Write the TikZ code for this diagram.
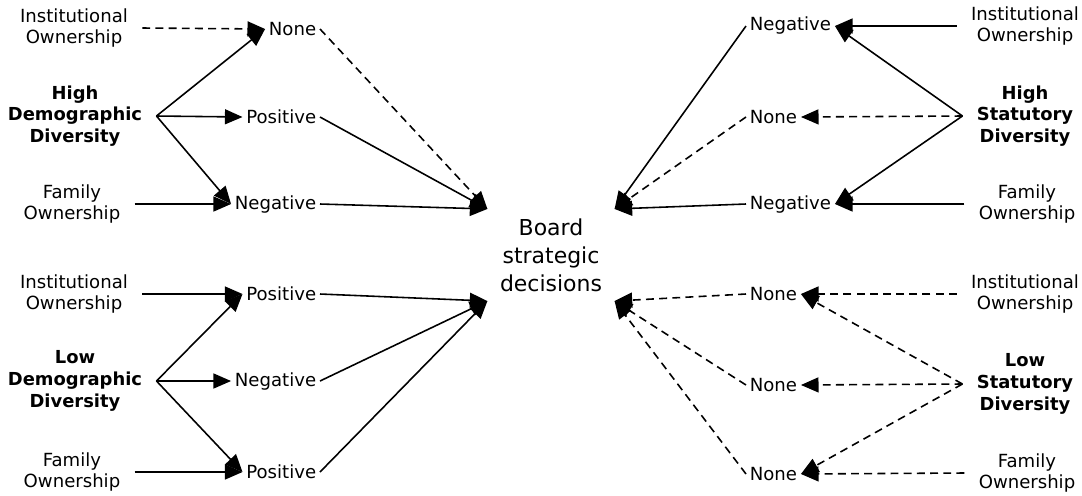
\documentclass[tikz,border=0pt]{standalone}
\usepackage{fontspec}
\setmainfont{DejaVu Sans}
\usetikzlibrary{arrows.meta}

\begin{document}
\begin{tikzpicture}[
    x=0.02cm, y=-0.02cm,
    factor/.style={align=center, inner xsep=8pt, inner ysep=2pt, font=\fontsize{10.3}{12.5}\selectfont},
    diversity/.style={factor, font=\fontsize{10.2}{12.3}\selectfont\bfseries},
    effect/.style={inner sep=2pt, font=\fontsize{10.3}{12}\selectfont},
    outcome/.style={align=center, inner sep=0pt, minimum width=72pt, minimum height=52pt, font=\fontsize{12.5}{16}\selectfont},
    arrow/.style={-{Triangle[length=10pt,width=8.5pt]}, line width=0.9pt},
    weak/.style={dash pattern=on 4.5pt off 3pt}
]
\useasboundingbox (0,0) rectangle (1082,495);

\node[outcome] (board) at (551,255) {Board\\strategic\\decisions};

\node[factor] (instA) at (74,28) {Institutional\\Ownership};
\node[diversity] (highdem) at (75,116) {High\\Demographic\\Diversity};
\node[factor] (famA) at (72,204) {Family\\Ownership};
\node[effect, anchor=east] (noneA) at (320,29) {None};
\node[effect, anchor=east] (posA) at (320,117) {Positive};
\node[effect, anchor=east] (negA) at (320,204) {Negative};

\node[factor] (instB) at (74,294) {Institutional\\Ownership};
\node[diversity] (lowdem) at (75,381) {Low\\Demographic\\Diversity};
\node[factor] (famB) at (72,472) {Family\\Ownership};
\node[effect, anchor=east] (posB) at (320,294) {Positive};
\node[effect, anchor=east] (negB) at (320,381) {Negative};
\node[effect, anchor=east] (posC) at (320,472) {Positive};

\node[factor] (instC) at (1025,26) {Institutional\\Ownership};
\node[diversity] (highstat) at (1025,116) {High\\Statutory\\Diversity};
\node[factor] (famC) at (1027,204) {Family\\Ownership};
\node[effect, anchor=west] (negC) at (746,26) {Negative};
\node[effect, anchor=west] (noneB) at (746,117) {None};
\node[effect, anchor=west] (negD) at (746,204) {Negative};

\node[factor] (instD) at (1025,294) {Institutional\\Ownership};
\node[diversity] (lowstat) at (1025,384) {Low\\Statutory\\Diversity};
\node[factor] (famD) at (1027,473) {Family\\Ownership};
\node[effect, anchor=west] (noneC) at (746,294) {None};
\node[effect, anchor=west] (noneD) at (746,385) {None};
\node[effect, anchor=west] (noneE) at (746,474) {None};

\draw[arrow, weak] (instA.east) -- (noneA.west);
\draw[arrow] (highdem.east) -- (noneA.west);
\draw[arrow] (highdem.east) -- (posA.west);
\draw[arrow] (highdem.east) -- (negA.west);
\draw[arrow] (famA.east) -- (negA.west);
\draw[arrow, weak] (noneA.east) -- (board.north west);
\draw[arrow] (posA.east) -- (board.north west);
\draw[arrow] (negA.east) -- (board.north west);

\draw[arrow] (instB.east) -- (posB.west);
\draw[arrow] (lowdem.east) -- (posB.west);
\draw[arrow] (lowdem.east) -- (negB.west);
\draw[arrow] (lowdem.east) -- (posC.west);
\draw[arrow] (famB.east) -- (posC.west);
\draw[arrow] (posB.east) -- (board.south west);
\draw[arrow] (negB.east) -- (board.south west);
\draw[arrow] (posC.east) -- (board.south west);

\draw[arrow] (instC.west) -- (negC.east);
\draw[arrow] (highstat.west) -- (negC.east);
\draw[arrow, weak] (highstat.west) -- (noneB.east);
\draw[arrow] (highstat.west) -- (negD.east);
\draw[arrow] (famC.west) -- (negD.east);
\draw[arrow] (negC.west) -- (board.north east);
\draw[arrow, weak] (noneB.west) -- (board.north east);
\draw[arrow] (negD.west) -- (board.north east);

\draw[arrow, weak] (instD.west) -- (noneC.east);
\draw[arrow, weak] (lowstat.west) -- (noneC.east);
\draw[arrow, weak] (lowstat.west) -- (noneD.east);
\draw[arrow, weak] (lowstat.west) -- (noneE.east);
\draw[arrow, weak] (famD.west) -- (noneE.east);
\draw[arrow, weak] (noneC.west) -- (board.south east);
\draw[arrow, weak] (noneD.west) -- (board.south east);
\draw[arrow, weak] (noneE.west) -- (board.south east);
\end{tikzpicture}
\end{document}
